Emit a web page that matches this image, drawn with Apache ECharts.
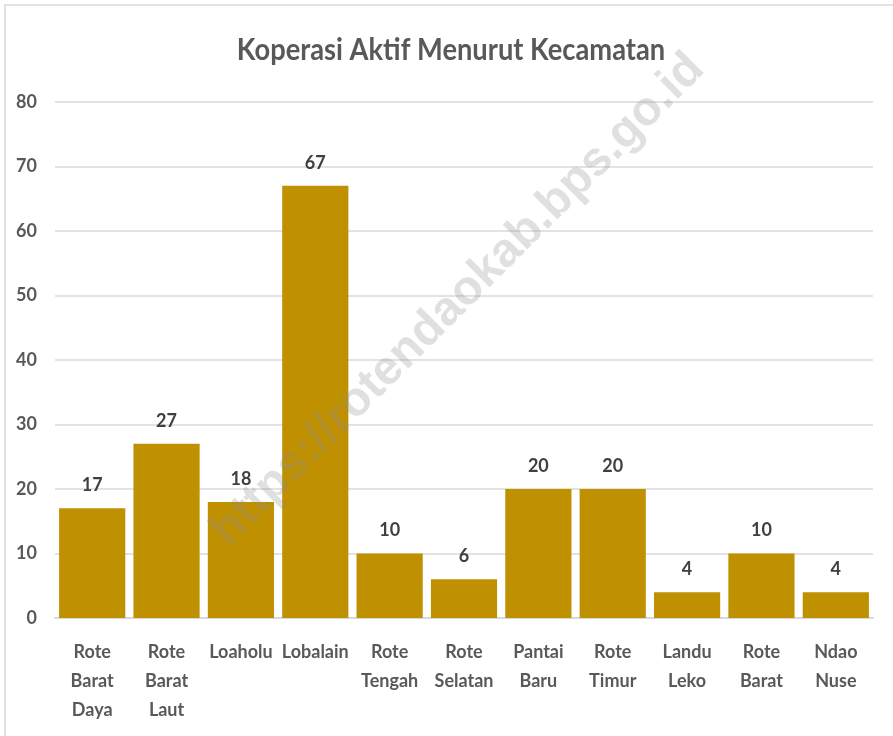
<!DOCTYPE html>
<html>
<head>
<meta charset="utf-8">
<script src="https://cdn.jsdelivr.net/npm/echarts@6/dist/echarts.min.js"></script>
<style>
  html, body { margin: 0; padding: 0; background: #fff; }
  #chart { width: 893px; height: 736px; }
</style>
</head>
<body>
<div id="chart"></div>
<script>
  // data
  let categories = ['Rote\nBarat\nDaya', 'Rote\nBarat\nLaut', 'Loaholu', 'Lobalain', 'Rote\nTengah',
    'Rote\nSelatan', 'Pantai\nBaru', 'Rote\nTimur', 'Landu\nLeko', 'Rote\nBarat', 'Ndao\nNuse'];
  let values = [17, 27, 18, 67, 10, 6, 20, 20, 4, 10, 4];
  let yTicks = [0, 10, 20, 30, 40, 50, 60, 70, 80];
  let chartTitle = 'Koperasi Aktif Menurut Kecamatan';
  let watermark = 'https://rotendaokab.bps.go.id';

  let font = "Lato, 'DejaVu Sans Condensed', sans-serif";

  let chart = echarts.init(document.getElementById('chart'));
  let option = {
    animation: false,
    grid: {
      left: 55,
      right: 20,
      top: 102,
      bottom: 118
    },
    graphic: [
      {
        type: 'rect',
        shape: { x: 5, y: 5, width: 1000, height: 1000 },
        style: { fill: 'none', stroke: '#d9d9d9', lineWidth: 1.5 },
        silent: true,
        z: -1
      },
      {
        // title, squeezed a bit like the original
        type: 'text',
        x: 451,
        y: 50,
        scaleX: 0.88,
        style: {
          text: chartTitle,
          fontFamily: font,
          fontSize: 31,
          fontWeight: 'bold',
          fill: '#595959',
          align: 'center',
          verticalAlign: 'middle'
        },
        silent: true
      },
      {
        type: 'text',
        x: 458,
        y: 300,
        rotation: Math.PI / 4,
        style: {
          text: watermark,
          fontFamily: "'Liberation Sans', Arial, sans-serif",
          fontSize: 48,
          fontWeight: 'bold',
          fill: 'rgba(140,140,140,0.27)',
          align: 'center',
          verticalAlign: 'middle'
        },
        silent: true,
        z: 100
      }
    ],
    xAxis: {
      type: 'category',
      data: categories,
      axisTick: { show: false },
      axisLine: { lineStyle: { color: '#d9d9d9', width: 2 } },
      axisLabel: {
        interval: 0,
        margin: 20,
        fontFamily: font,
        fontSize: 18,
        fontWeight: 'bold',
        lineHeight: 29,
        color: '#595959',
        verticalAlign: 'top'
      }
    },
    yAxis: {
      type: 'value',
      min: yTicks[0],
      max: yTicks[yTicks.length - 1],
      interval: 10,
      axisLine: { show: false },
      axisTick: { show: false },
      splitLine: { lineStyle: { color: '#d9d9d9', width: 1.5 } },
      axisLabel: {
        margin: 18,
        fontFamily: font,
        fontSize: 18,
        fontWeight: 'bold',
        color: '#595959'
      }
    },
    series: [{
      type: 'bar',
      data: values,
      barCategoryGap: '11%',
      itemStyle: { color: '#bf9000' },
      label: {
        show: true,
        position: 'top',
        distance: 14,
        fontFamily: font,
        fontSize: 18,
        fontWeight: 'bold',
        color: '#404040'
      }
    }]
  };
  chart.setOption(option);
</script>
</body>
</html>
